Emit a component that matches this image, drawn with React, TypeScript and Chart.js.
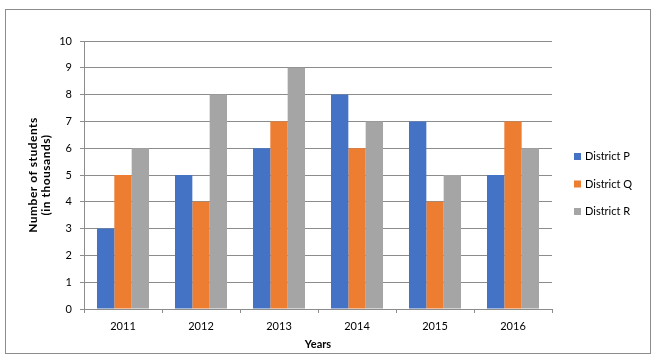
import React, { useEffect, useRef } from "react";
import { Chart, registerables } from "chart.js";

Chart.register(...registerables);

const categories = ["2011", "2012", "2013", "2014", "2015", "2016"];
const districtP = [3, 5, 6, 8, 7, 5];
const districtQ = [5, 4, 7, 6, 4, 7];
const districtR = [6, 8, 9, 7, 5, 6];
const seriesNames = ["District P", "District Q", "District R"];
const seriesColors = ["#4472C4", "#ED7D31", "#A5A5A5"];
const yTitle = ["Number of students", "(in thousands)"];
const xTitle = "Years";

const FONT = "Lato, 'Liberation Sans', sans-serif";

const decor = {
  id: "decor",
  beforeDraw(chart: any) {
    const ctx = chart.ctx;
    ctx.save();
    ctx.fillStyle = "#ffffff";
    ctx.fillRect(0, 0, chart.width, chart.height);
    ctx.strokeStyle = "#8c8c8c";
    ctx.lineWidth = 1;
    ctx.strokeRect(5.5, 9.5, 645, 344);
    ctx.restore();
  },
  afterDraw(chart: any) {
    const ctx = chart.ctx;
    const area = chart.chartArea;
    ctx.save();
    ctx.fillStyle = "#000000";
    ctx.font = `bold 11px ${FONT}`;
    ctx.textAlign = "center";
    ctx.textBaseline = "middle";
    ctx.fillText(xTitle, (area.left + area.right) / 2, 344);
    const cy = (area.top + area.bottom) / 2;
    ctx.translate(0, cy);
    ctx.rotate(-Math.PI / 2);
    ctx.font = `bold 12px ${FONT}`;
    (ctx as any).letterSpacing = "0.5px";
    ctx.fillText(yTitle[0], 0, 33);
    ctx.fillText(yTitle[1], 0, 46);
    ctx.restore();
    // legend
    ctx.save();
    ctx.font = `11px ${FONT}`;
    ctx.textBaseline = "middle";
    ctx.textAlign = "left";
    seriesNames.forEach((name, i) => {
      const y = 156.5 + i * 27.5;
      ctx.fillStyle = seriesColors[i];
      ctx.fillRect(574, y - 3.5, 7, 7);
      ctx.fillStyle = "#000000";
      ctx.fillText(name, 585, y);
    });
    ctx.restore();
  },
};

export default function App() {
  const ref = useRef<HTMLCanvasElement | null>(null);
  useEffect(() => {
    if (!ref.current) return;
    const datasets = [districtP, districtQ, districtR].map((d, i) => ({
      label: seriesNames[i],
      data: d,
      backgroundColor: seriesColors[i],
      borderWidth: 0,
      categoryPercentage: 0.667,
      barPercentage: 1,
    }));
    const chart = new Chart(ref.current, {
      type: "bar",
      data: { labels: categories, datasets },
      options: {
        animation: false,
        responsive: false,
        maintainAspectRatio: false,
        layout: { padding: { left: 0, top: 41, right: 102, bottom: 0 } },
        plugins: { legend: { display: false }, tooltip: { enabled: false } },
        scales: {
          x: {
            afterFit: (s: any) => {
              s.height = 50;
            },
            grid: {
              offset: true,
              drawOnChartArea: false,
              drawTicks: true,
              tickLength: 4,
              color: "#8c8c8c",
            },
            border: { display: true, color: "#8c8c8c" },
            ticks: { color: "#000", font: { family: FONT, size: 11 }, padding: 7, maxRotation: 0 },
          },
          y: {
            min: 0,
            max: 10,
            afterFit: (s: any) => {
              s.width = 84;
            },
            grid: { color: "#8c8c8c", tickLength: 4, drawTicks: true },
            border: { display: true, color: "#8c8c8c" },
            ticks: { stepSize: 1, color: "#000", font: { family: FONT, size: 11 }, padding: 8 },
          },
        },
      },
      plugins: [decor],
    });
    return () => chart.destroy();
  }, []);
  return (
    <div style={{ position: "absolute", left: 0, top: 0, width: 654, height: 359 }}>
      <canvas ref={ref} width={654} height={359} style={{ width: 654, height: 359, display: "block" }} />
    </div>
  );
}
